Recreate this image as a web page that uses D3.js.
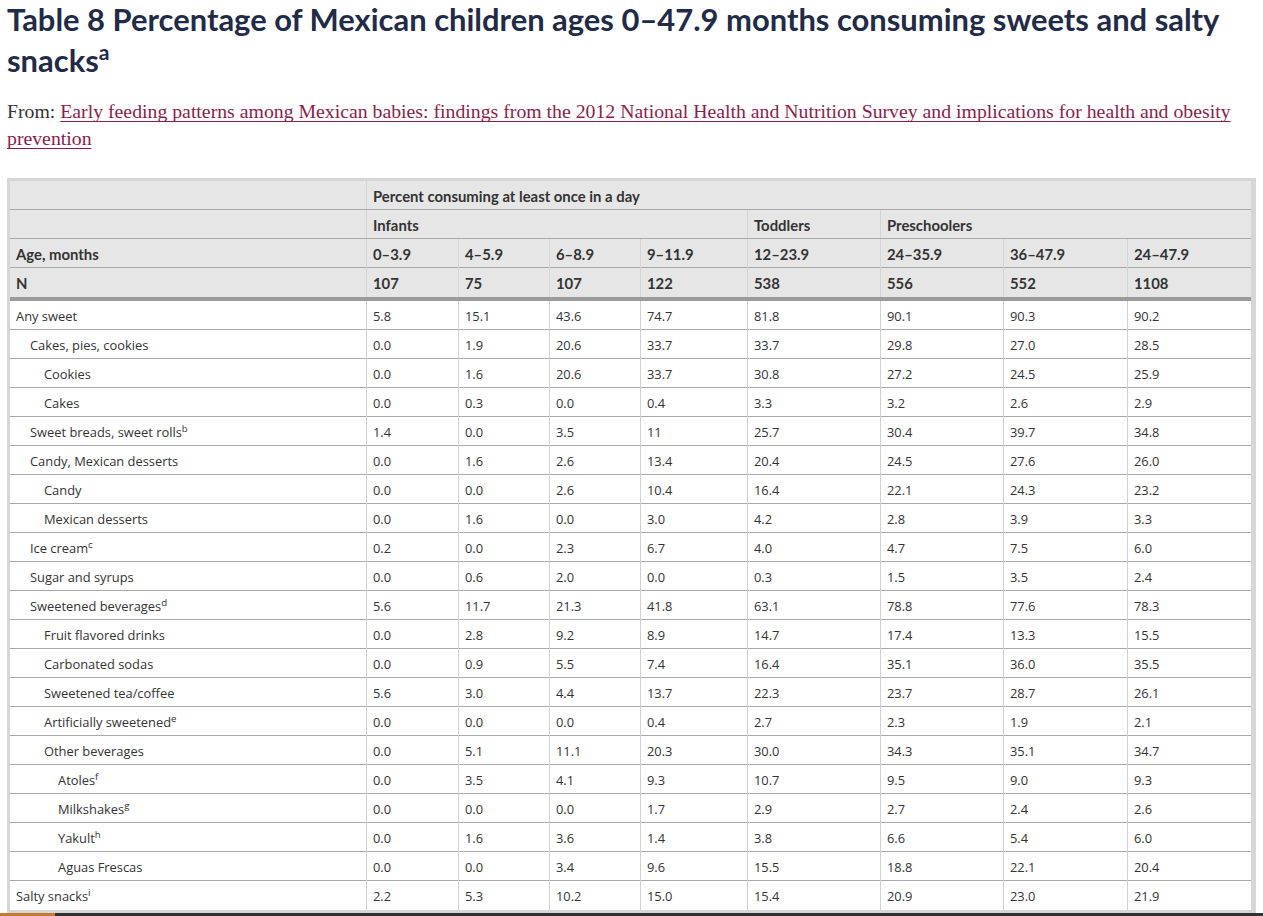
<!DOCTYPE html>
<html>
<head>
<meta charset="utf-8">
<script src="https://cdn.jsdelivr.net/npm/d3@7"></script>
<style>
  html, body { margin: 0; padding: 0; background: #fff; }
  svg { display: block; }
</style>
</head>
<body>
<svg id="chart" width="1263" height="916"></svg>
<script>
// ---------------- DATA ----------------
const titleLine1 = "Table 8 Percentage of Mexican children ages 0–47.9 months consuming sweets and salty";
const titleLine2 = "snacks";
const titleSup = "a";
const sourcePrefix = "From: ";
const sourceLink1 = "Early feeding patterns among Mexican babies: findings from the 2012 National Health and Nutrition Survey and implications for health and obesity";
const sourceLink2 = "prevention";

const headerTop = "Percent consuming at least once in a day";
const ageGroups = ["Infants", "Toddlers", "Preschoolers"];
const ageGroupSpans = [4, 1, 3];
const ageRanges = ["0–3.9", "4–5.9", "6–8.9", "9–11.9", "12–23.9", "24–35.9", "36–47.9", "24–47.9"];
const sampleN = ["107", "75", "107", "122", "538", "556", "552", "1108"];

const foodItems = ["Any sweet", "Cakes, pies, cookies", "Cookies", "Cakes", "Sweet breads, sweet rolls",
  "Candy, Mexican desserts", "Candy", "Mexican desserts", "Ice cream", "Sugar and syrups",
  "Sweetened beverages", "Fruit flavored drinks", "Carbonated sodas", "Sweetened tea/coffee",
  "Artificially sweetened", "Other beverages", "Atoles", "Milkshakes", "Yakult", "Aguas Frescas", "Salty snacks"];
const itemLevels = [0, 1, 2, 2, 1, 1, 2, 2, 1, 1, 1, 2, 2, 2, 2, 2, 3, 3, 3, 3, 0];
const itemNotes = ["", "", "", "", "b", "", "", "", "c", "", "d", "", "", "", "e", "", "f", "g", "h", "", "i"];

const age0to3 =   ["5.8","0.0","0.0","0.0","1.4","0.0","0.0","0.0","0.2","0.0","5.6","0.0","0.0","5.6","0.0","0.0","0.0","0.0","0.0","0.0","2.2"];
const age4to5 =   ["15.1","1.9","1.6","0.3","0.0","1.6","0.0","1.6","0.0","0.6","11.7","2.8","0.9","3.0","0.0","5.1","3.5","0.0","1.6","0.0","5.3"];
const age6to8 =   ["43.6","20.6","20.6","0.0","3.5","2.6","2.6","0.0","2.3","2.0","21.3","9.2","5.5","4.4","0.0","11.1","4.1","0.0","3.6","3.4","10.2"];
const age9to11 =  ["74.7","33.7","33.7","0.4","11","13.4","10.4","3.0","6.7","0.0","41.8","8.9","7.4","13.7","0.4","20.3","9.3","1.7","1.4","9.6","15.0"];
const age12to23 = ["81.8","33.7","30.8","3.3","25.7","20.4","16.4","4.2","4.0","0.3","63.1","14.7","16.4","22.3","2.7","30.0","10.7","2.9","3.8","15.5","15.4"];
const age24to35 = ["90.1","29.8","27.2","3.2","30.4","24.5","22.1","2.8","4.7","1.5","78.8","17.4","35.1","23.7","2.3","34.3","9.5","2.7","6.6","18.8","20.9"];
const age36to47 = ["90.3","27.0","24.5","2.6","39.7","27.6","24.3","3.9","7.5","3.5","77.6","13.3","36.0","28.7","1.9","35.1","9.0","2.4","5.4","22.1","23.0"];
const age24to47 = ["90.2","28.5","25.9","2.9","34.8","26.0","23.2","3.3","6.0","2.4","78.3","15.5","35.5","26.1","2.1","34.7","9.3","2.6","6.0","20.4","21.9"];

// ---------------- LAYOUT ----------------
const valueCols = [age0to3, age4to5, age6to8, age9to11, age12to23, age24to35, age36to47, age24to47];
const colEdges = [10, 366, 458, 549, 640, 747, 880, 1003, 1127, 1251]; // column boundaries
const colKeys = ["label"].concat(ageRanges.map((d, i) => "c" + i));
const xLeft = d3.scaleOrdinal().domain(colKeys).range(colEdges.slice(0, -1));

const headRows = ["top", "group", "age", "n"];
const yHead = d3.scaleBand().domain(headRows).range([181, 297]);
const yBody = d3.scaleBand().domain(d3.range(foodItems.length)).range([301, 910]);

const svg = d3.select("#chart");
const PAD = 7;
const textCol = "#333";
const hLine = "#a9a9a9", vLineBody = "#d0d0d0", vLineHead = "#d4d4d4";

function fitSize(family, weight, text, target, base) {
  const t = svg.append("text").attr("font-family", family).attr("font-weight", weight)
    .attr("font-size", base).text(text);
  const w = t.node().getComputedTextLength();
  t.remove();
  return base * target / w;
}

// ---------------- TITLE ----------------
const titleFont = "Lato, 'Open Sans', sans-serif";
const titleSize = fitSize(titleFont, 700, titleLine1, 1213, 30);
const title = svg.append("g").attr("fill", "#1f2b47").attr("font-family", titleFont)
  .attr("font-weight", 700).attr("font-size", titleSize);
title.append("text").attr("x", 7).attr("y", 31).text(titleLine1);
const t2 = title.append("text").attr("x", 7).attr("y", 72);
t2.append("tspan").text(titleLine2);
t2.append("tspan").attr("font-size", titleSize * 0.68).attr("dy", -12).text(titleSup);

// ---------------- SOURCE ----------------
const serif = "'Liberation Serif', 'DejaVu Serif', serif";
const srcSize = fitSize(serif, 400, sourcePrefix + sourceLink1, 1225, 17);
const linkCol = "#8a1d4c";
const src = svg.append("g").attr("font-family", serif).attr("font-size", srcSize);
const s1 = src.append("text").attr("x", 7).attr("y", 118).attr("xml:space", "preserve");
s1.append("tspan").attr("fill", textCol).text(sourcePrefix);
const linkSpan = s1.append("tspan").attr("fill", linkCol).text(sourceLink1);
const s2 = src.append("text").attr("x", 7).attr("y", 145).attr("fill", linkCol).text(sourceLink2);
{
  const wl = s1.node().getComputedTextLength();
  const wk = linkSpan.node().getComputedTextLength();
  const w2 = s2.node().getComputedTextLength();
  src.append("line").attr("x1", 7 + wl - wk).attr("x2", 7 + wl).attr("y1", 121.5).attr("y2", 121.5)
    .attr("stroke", linkCol).attr("stroke-width", 1);
  src.append("line").attr("x1", 7).attr("x2", 7 + w2).attr("y1", 148.5).attr("y2", 148.5)
    .attr("stroke", linkCol).attr("stroke-width", 1);
}

// ---------------- TABLE FRAME ----------------
const table = svg.append("g");
table.append("rect").attr("x", 7).attr("y", 178).attr("width", 1249).attr("height", 735).attr("fill", "#d6d6d6");
table.append("rect").attr("x", colEdges[0]).attr("y", yHead.range()[0])
  .attr("width", colEdges[9] - colEdges[0]).attr("height", yHead.range()[1] - yHead.range()[0]).attr("fill", "#e6e6e6");
table.append("rect").attr("x", colEdges[0]).attr("y", yBody.range()[0])
  .attr("width", colEdges[9] - colEdges[0]).attr("height", yBody.range()[1] - yBody.range()[0]).attr("fill", "#fff");

const headFont = "Lato, 'Open Sans', sans-serif";
const headSize = fitSize(headFont, 700, headerTop, 267, 13);
const bodyFont = "'Open Sans', 'Noto Sans', sans-serif";
const bodySize = fitSize(bodyFont, 400, "Sweet breads, sweet rolls", 152, 13);

const hg = table.append("g");
headRows.slice(1).forEach(r => {
  hg.append("line").attr("x1", colEdges[0]).attr("x2", colEdges[9])
    .attr("y1", yHead(r) - 0.5).attr("y2", yHead(r) - 0.5).attr("stroke", hLine);
});
function vline(g, x, y0, y1, c) {
  g.append("line").attr("x1", x + 0.5).attr("x2", x + 0.5).attr("y1", y0).attr("y2", y1).attr("stroke", c);
}
vline(hg, xLeft("c0"), yHead("top"), yHead("top") + yHead.bandwidth() - 1, vLineHead);
let gi = 0;
const groupStarts = [];
ageGroupSpans.forEach(s => { groupStarts.push(gi); gi += s; });
groupStarts.forEach(s => vline(hg, xLeft("c" + s), yHead("group"), yHead("group") + yHead.bandwidth() - 1, vLineHead));
colKeys.slice(1).forEach(k => {
  vline(hg, xLeft(k), yHead("age"), yHead("n") + yHead.bandwidth(), vLineHead);
});

const ht = hg.append("g").attr("font-family", headFont).attr("font-weight", 700)
  .attr("font-size", headSize).attr("fill", textCol);
const mid = (r) => yHead(r) + yHead.bandwidth() / 2 + 1;
ht.append("text").attr("x", xLeft("c0") + PAD).attr("y", mid("top")).attr("dy", "0.35em").text(headerTop);
ht.selectAll("text.grp").data(ageGroups).join("text").attr("class", "grp")
  .attr("x", (d, i) => xLeft("c" + groupStarts[i]) + PAD).attr("y", mid("group")).attr("dy", "0.35em").text(d => d);
ht.append("text").attr("x", xLeft("label") + 6).attr("y", mid("age")).attr("dy", "0.35em").text("Age, months");
ht.append("text").attr("x", xLeft("label") + 6).attr("y", mid("n")).attr("dy", "0.35em").text("N");
ht.selectAll("text.age").data(ageRanges).join("text").attr("class", "age")
  .attr("x", (d, i) => xLeft("c" + i) + PAD).attr("y", mid("age")).attr("dy", "0.35em").text(d => d);
ht.selectAll("text.nn").data(sampleN).join("text").attr("class", "nn")
  .attr("x", (d, i) => xLeft("c" + i) + PAD).attr("y", mid("n")).attr("dy", "0.35em").text(d => d);

// thick separator
table.append("rect").attr("x", colEdges[0]).attr("y", yHead.range()[1]).attr("width", colEdges[9] - colEdges[0])
  .attr("height", yBody.range()[0] - yHead.range()[1]).attr("fill", "#9a9a9a");

// ---------------- BODY ----------------
const bg = table.append("g");
d3.range(1, foodItems.length).forEach(i => {
  bg.append("line").attr("x1", colEdges[0]).attr("x2", colEdges[9])
    .attr("y1", yBody(i) - 0.5).attr("y2", yBody(i) - 0.5).attr("stroke", hLine);
});
colKeys.slice(1).forEach(k => vline(bg, xLeft(k), yBody.range()[0], yBody.range()[1], vLineBody));

const bt = bg.append("g").attr("font-family", bodyFont).attr("font-size", bodySize).attr("fill", textCol);
const rowMid = (i) => yBody(i) + yBody.bandwidth() / 2 + 1;
const labels = bt.selectAll("text.lab").data(foodItems).join("text").attr("class", "lab")
  .attr("x", (d, i) => xLeft("label") + 6 + itemLevels[i] * 14)
  .attr("y", (d, i) => rowMid(i)).attr("dy", "0.35em");
labels.append("tspan").text(d => d);
labels.append("tspan").attr("font-size", bodySize * 0.75).attr("dy", "-0.5em")
  .text((d, i) => itemNotes[i]);

valueCols.forEach((col, c) => {
  bt.selectAll("text.v" + c).data(col).join("text").attr("class", "v" + c)
    .attr("x", xLeft("c" + c) + PAD).attr("y", (d, i) => rowMid(i)).attr("dy", "0.35em").text(d => d);
});

// ---------------- PAGE FOOTER BAR ----------------
svg.append("rect").attr("x", 0).attr("y", 913).attr("width", 1263).attr("height", 3).attr("fill", "#333");
svg.append("rect").attr("x", 0).attr("y", 913).attr("width", 55).attr("height", 3).attr("fill", "#c57a32");
</script>
</body>
</html>
